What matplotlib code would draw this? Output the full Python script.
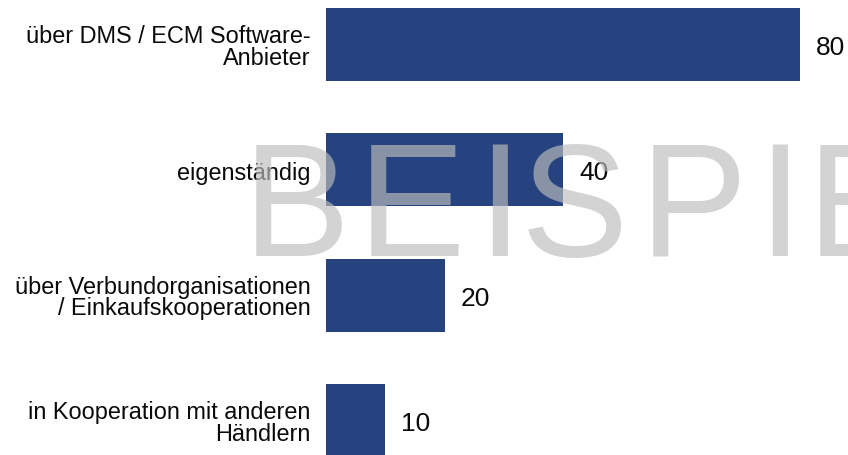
import matplotlib.pyplot as plt

# Daten
kategorien = [
    "über DMS / ECM Software-\nAnbieter",
    "eigenständig",
    "über Verbundorganisationen\n/ Einkaufskooperationen",
    "in Kooperation mit anderen\nHändlern",
]
werte = [80, 40, 20, 10]

# Wasserzeichen: Buchstaben und linke Kante (Pixel) – gesperrt gesetzt
wz_buchstaben = ["B", "E", "I", "S", "P", "I", "E"]
wz_x = [243, 358, 477, 521, 640, 757, 807]

plt.rcParams['font.family'] = ['Liberation Sans', 'DejaVu Sans']

W, H = 848, 456
fig = plt.figure(figsize=(W / 100, H / 100), dpi=100)
ax = fig.add_axes([326 / W, 0, (W - 326) / W, 1])

pos = list(range(len(werte)))
ax.barh(pos, werte, height=0.583, color='#264380')

ax.set_xlim(0, 80 * (W - 326) / 474)
ax.set_ylim(3 + (456 - 421.5) / 125.3, -45.5 / 125.3)

for p, w in zip(pos, werte):
    ax.text(w + 16 * 80 / 474, p + 0.02, str(w), va='center', ha='left',
            fontsize=19, color='#0a0a0a')

ax.set_yticks(pos)
ax.set_yticklabels(kategorien, fontsize=16.9, color='#0a0a0a', linespacing=0.93)
ax.tick_params(axis='y', length=0, pad=11)
ax.set_xticks([])
for s in ax.spines.values():
    s.set_visible(False)

# Wasserzeichen "BEISPIEL" (rechts abgeschnitten)
for b, x in zip(wz_buchstaben, wz_x):
    fig.text(x / W, 1 - 256 / H, b, fontsize=115.9, color='#BDBDBD',
             alpha=0.66, ha='left', va='baseline', zorder=10)

fig.savefig('out.png', dpi=100)
